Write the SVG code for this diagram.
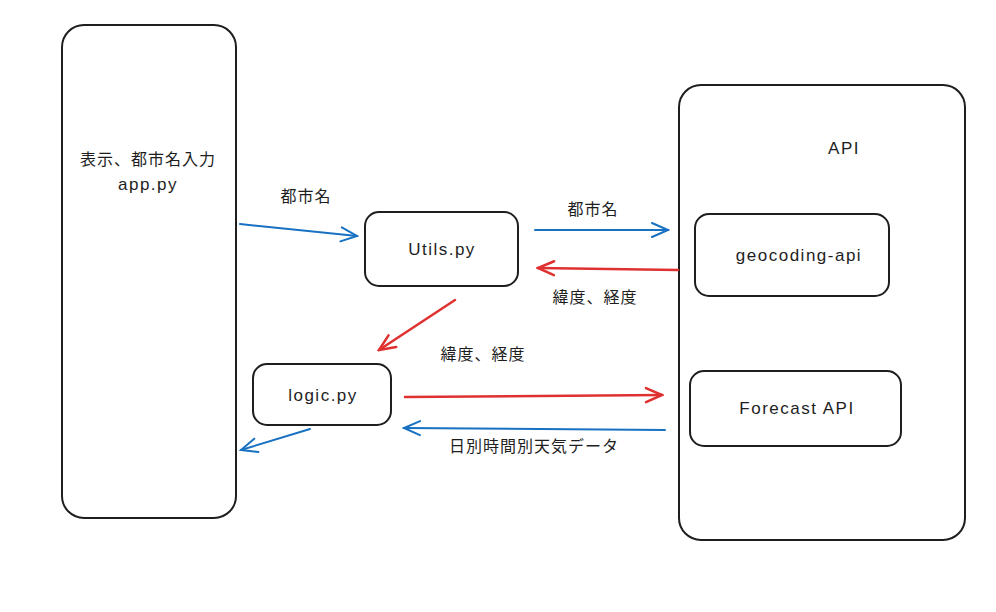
<svg xmlns="http://www.w3.org/2000/svg" width="996" height="612" viewBox="0 0 996 612">
<style>
.box{fill:#fff;stroke:#1e1e1e;stroke-width:2}
.t{font-family:"Liberation Sans","Noto Sans CJK JP",sans-serif;font-size:16px;letter-spacing:1px;fill:#1e1e1e;text-anchor:middle}
.l{font-size:17px;letter-spacing:1.5px}
.b{fill:none;stroke:#1971c2;stroke-width:2;stroke-linecap:round}
.r{fill:none;stroke:#e03131;stroke-width:2.5;stroke-linecap:round}
</style>
<defs>
<marker id="mb" viewBox="0 0 20 20" refX="18" refY="10" markerWidth="20" markerHeight="20" markerUnits="userSpaceOnUse" orient="auto">
<path d="M2,3 L18,10 L2,17" fill="none" stroke="#1971c2" stroke-width="2" stroke-linecap="round"/>
</marker>
<marker id="mr" viewBox="0 0 20 20" refX="18" refY="10" markerWidth="20" markerHeight="20" markerUnits="userSpaceOnUse" orient="auto">
<path d="M2,3 L18,10 L2,17" fill="none" stroke="#e03131" stroke-width="2.5" stroke-linecap="round"/>
</marker>
</defs>
<rect width="996" height="612" fill="#fff"/>
<g id="app">
<rect class="box" x="62" y="25" width="174" height="493" rx="22"/>
<text class="t" x="148" y="165">表示、都市名入力</text>
<text class="t l" x="148" y="190">app.py</text>
</g>
<g id="utils">
<rect class="box" x="365" y="212" width="153" height="74" rx="14"/>
<text class="t l" x="442" y="255">Utils.py</text>
</g>
<g id="logic">
<rect class="box" x="253" y="364" width="138" height="61" rx="14"/>
<text class="t l" x="323" y="401">logic.py</text>
</g>
<g id="api">
<rect class="box" x="679" y="85" width="286" height="455" rx="22"/>
<text class="t l" x="844" y="154">API</text>
</g>
<g id="geocoding">
<rect class="box" x="695" y="214" width="194" height="82" rx="14"/>
<text class="t l" x="799" y="261">geocoding-api</text>
</g>
<g id="forecast">
<rect class="box" x="690" y="371" width="211" height="75" rx="14"/>
<text class="t l" x="797" y="414">Forecast API</text>
</g>
<g id="connectors">
<line class="b" x1="240" y1="224" x2="357" y2="236" marker-end="url(#mb)"/>
<line class="b" x1="535" y1="230" x2="668" y2="230" marker-end="url(#mb)"/>
<line class="r" x1="678" y1="270" x2="538" y2="268" marker-end="url(#mr)"/>
<line class="r" x1="455" y1="300" x2="379" y2="350" marker-end="url(#mr)"/>
<line class="r" x1="405" y1="397" x2="662" y2="395" marker-end="url(#mr)"/>
<line class="b" x1="665" y1="430" x2="404" y2="428" marker-end="url(#mb)"/>
<line class="b" x1="310" y1="429" x2="241" y2="450" marker-end="url(#mb)"/>
</g>
<g id="labels">
<text class="t" x="306" y="202">都市名</text>
<text class="t" x="593" y="215">都市名</text>
<text class="t" x="595" y="303">緯度、経度</text>
<text class="t" x="483" y="360">緯度、経度</text>
<text class="t" x="534" y="452">日別時間別天気データ</text>
</g>
</svg>
